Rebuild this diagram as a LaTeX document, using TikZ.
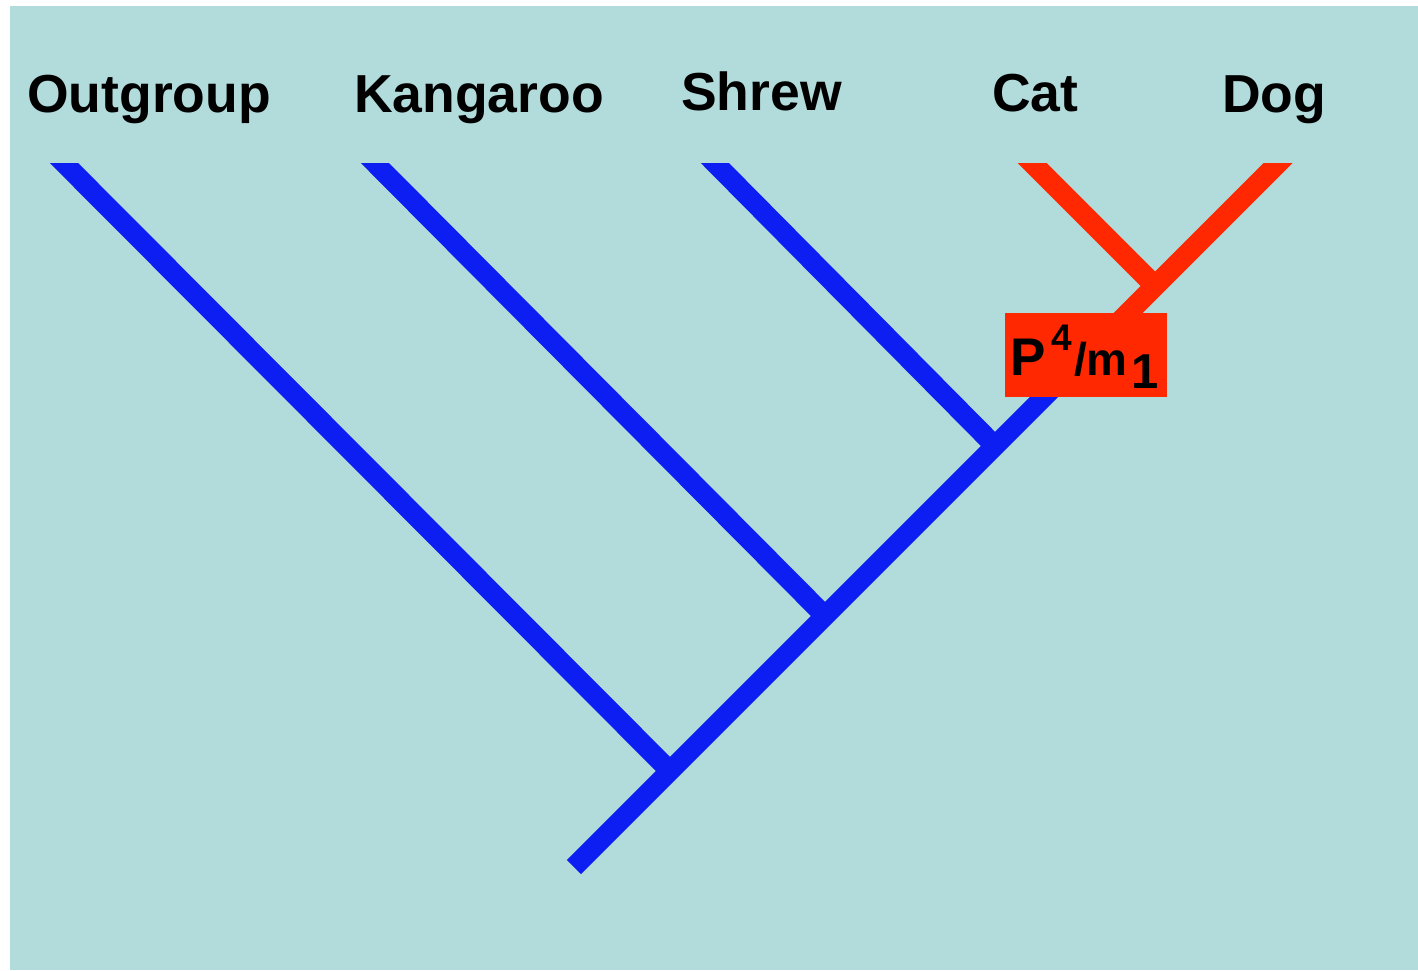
\documentclass[tikz,border=0pt]{standalone}
\usepackage{fontspec}
\setmainfont{Liberation Sans}
\definecolor{bgteal}{RGB}{178,219,219}
\definecolor{treeblue}{RGB}{12,30,242}
\definecolor{treered}{RGB}{255,40,0}
\tikzset{
  branch/.style={line width=20pt, line cap=butt, draw=treeblue},
  redbranch/.style={line width=20.5pt, line cap=butt, draw=treered},
  taxon/.style={anchor=base west, inner sep=0pt, font=\bfseries\fontsize{53.5}{53.5}\selectfont},
  charbox/.style={fill=treered, draw=none, minimum width=162pt, minimum height=84pt, inner sep=0pt}
}
\begin{document}
\begin{tikzpicture}[x=1pt,y=-1pt]
\useasboundingbox (0,0) rectangle (1418,970);
\fill[white] (0,0) rectangle (1418,970);
\fill[bgteal] (10,6) rectangle (1418,970);

% coordinates
\coordinate (root) at (574,867);
\coordinate (nOut) at (670,771);
\coordinate (nKan) at (825,616);
\coordinate (nShr) at (995,446);
\coordinate (spineTop) at (1062,379);
\coordinate (tOut) at (49,148);
\coordinate (tKan) at (360,148);
\coordinate (tShr) at (700,148);
\coordinate (nCD) at (1155,286);
\coordinate (stemLow) at (1098,343);
\coordinate (tCat) at (1017,148);
\coordinate (tDog) at (1293,148);

\begin{scope}
\clip (0,163) rectangle (1418,970);
\draw[branch] (tOut) -- (nOut);
\draw[branch] (tKan) -- (nKan);
\draw[branch] (tShr) -- (nShr);
\draw[branch] (root) -- (spineTop);
\draw[redbranch] (tCat) -- (nCD);
\draw[redbranch] (tDog) -- (stemLow);
\end{scope}

\node[charbox] (box) at (1086,355) {};
\node[anchor=base west, inner sep=0pt, font=\bfseries] (boxtext) at (1010,375)
  {{\fontsize{53}{53}\selectfont P}\kern6pt\raisebox{25pt}{\fontsize{37}{37}\selectfont 4}\kern2pt{\fontsize{46}{46}\selectfont /m}\kern4pt\raisebox{-13pt}{\fontsize{49}{49}\selectfont 1}};

\node[taxon] (lOut) at (27,112) {Outgroup};
\node[taxon] (lKan) at (354,112) {Kangaroo};
\node[taxon] (lShr) at (681,110) {Shrew};
\node[taxon] (lCat) at (992,111) {Cat};
\node[taxon] (lDog) at (1222,112) {Dog};
\end{tikzpicture}
\end{document}
